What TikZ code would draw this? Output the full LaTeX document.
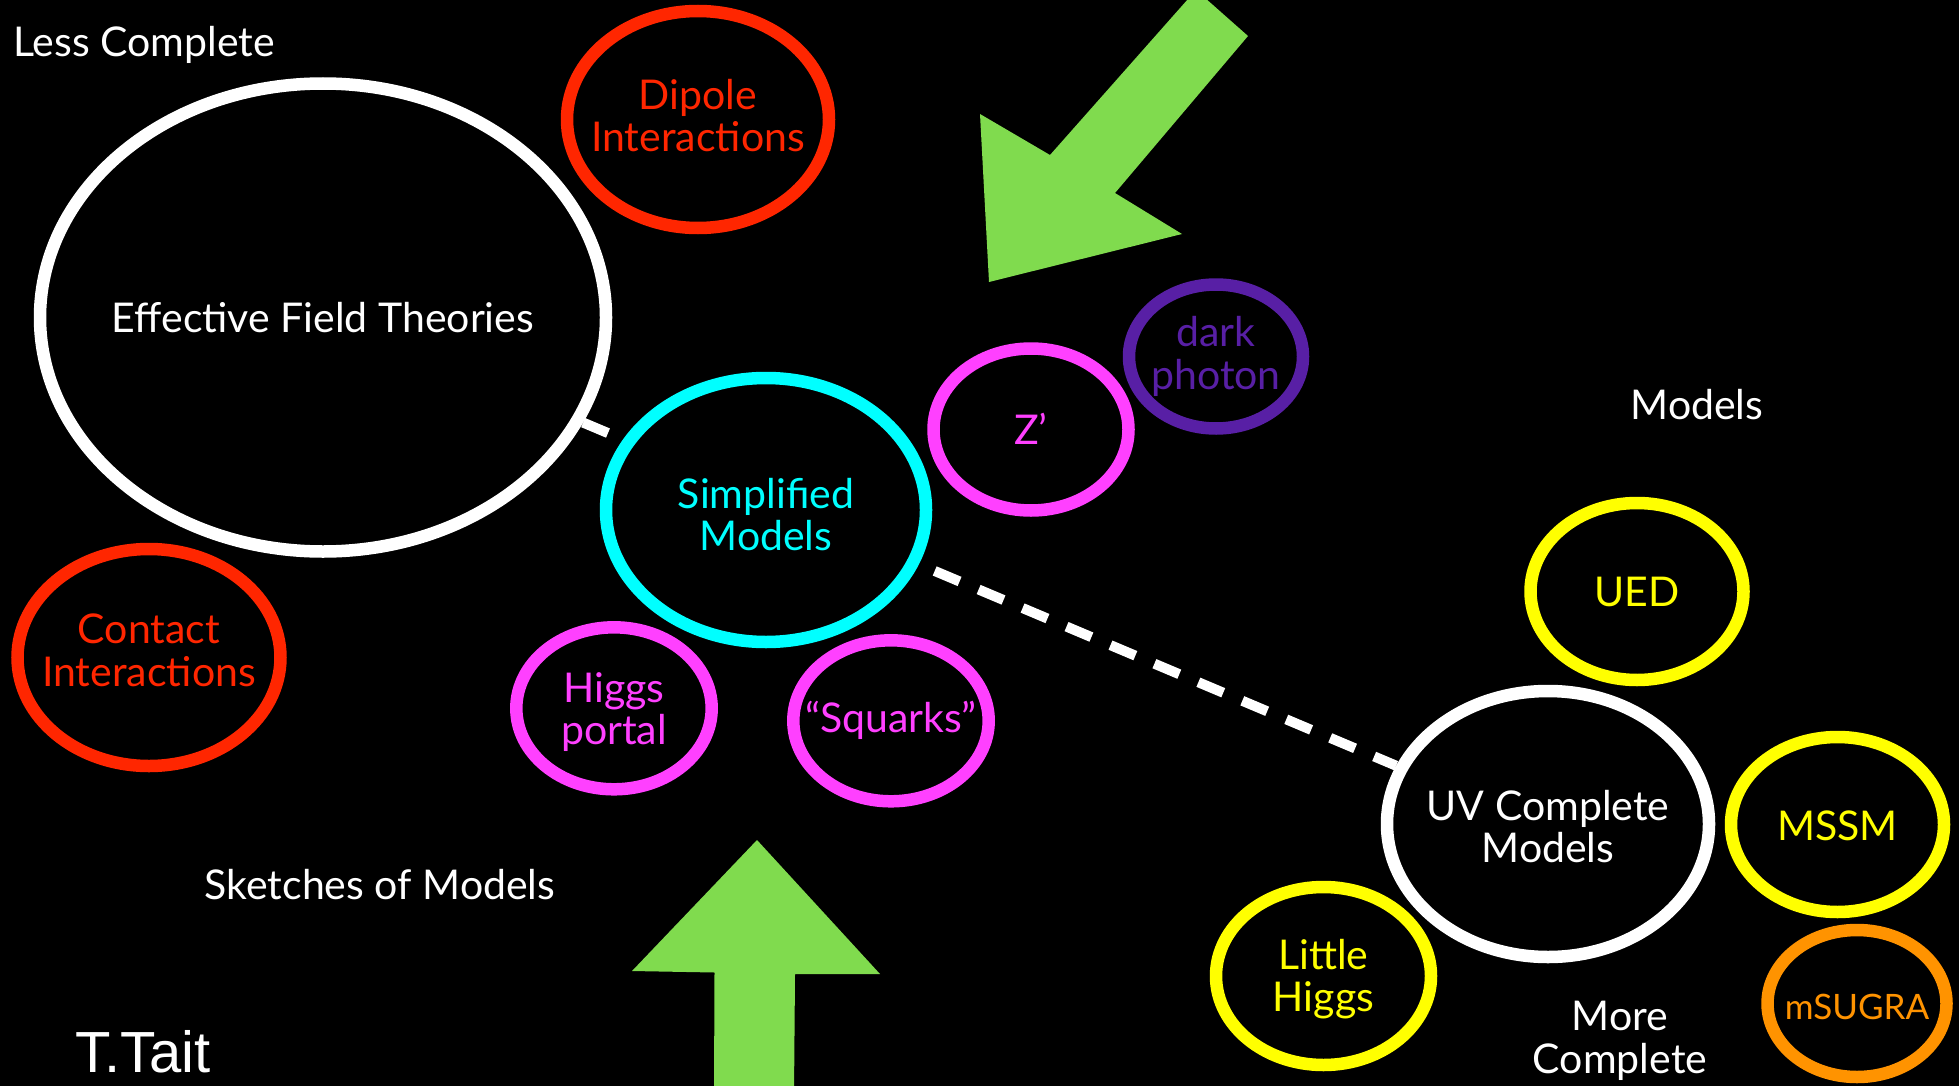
\documentclass[tikz,border=0pt]{standalone}
\usepackage{fontspec}
\setmainfont{Lato}
\newfontfamily\authorfont{Liberation Sans}
\usetikzlibrary{shapes.geometric}

\definecolor{bubblered}{RGB}{255,38,0}
\definecolor{bubblecyan}{RGB}{0,255,255}
\definecolor{bubblemagenta}{RGB}{255,64,255}
\definecolor{bubblepurple}{RGB}{88,31,165}
\definecolor{bubbleyellow}{RGB}{255,255,0}
\definecolor{bubbleorange}{RGB}{255,147,0}
\definecolor{arrowgreen}{RGB}{128,219,78}

\newcommand\bubblefont{\fontsize{20.5}{21.25}\selectfont}
\newcommand\smallbubblefont{\fontsize{17.5}{20}\selectfont}

\pgfdeclarelayer{backdrop}
\pgfdeclarelayer{links}
\pgfsetlayers{backdrop,links,main}

\begin{document}
\begin{tikzpicture}[x=0.5pt,y=-0.5pt,
  bubble/.style={ellipse, draw=#1, line width=6.25pt, fill=black, inner sep=0pt},
  tx/.style={inner sep=0pt, align=center, font=\bubblefont, text=#1},
  plain/.style={inner sep=0pt, text=white, font=\bubblefont},
  link/.style={draw=white, line width=5pt, dash pattern=on 13.5pt off 10.35pt},
  bigarrow/.style={fill=arrowgreen}]

\useasboundingbox (0,0) rectangle (1959,1086);
\begin{pgfonlayer}{backdrop}
  \fill[black] (0,0) rectangle (1959,1086);
\end{pgfonlayer}
\clip (0,0) rectangle (1959,1086);

% headings
\node[plain, anchor=base west] (lesscomplete) at (12.8,57) {Less Complete};
\node[plain, anchor=base] (modelslabel) at (1697,419) {Models};
\node[plain, anchor=base] (sketches) at (380,899) {Sketches of Models};
\node[plain, align=center] (morecomplete) at (1620,1041) {More\\Complete};
\node[inner sep=0pt, anchor=base west, text=white,
  font=\authorfont\fontsize{29}{32}\selectfont] (author) at (75,1072) {T.Tait};

% theory bubbles, each with its label set in the middle
\node[bubble=white, minimum width=283pt, minimum height=234pt,
  label={[tx=white]center:Effective Field Theories}]
  (eft) at (323,317.5) {};
\node[bubble=bubblered, minimum width=131pt, minimum height=108.5pt,
  label={[tx=bubblered, yshift=2pt]center:{Dipole\\Interactions}}]
  (dipole) at (698,119.5) {};
\node[bubble=bubblered, minimum width=131.5pt, minimum height=108.5pt,
  label={[tx=bubblered, yshift=3.7pt]center:{Contact\\Interactions}}]
  (contact) at (149,657.5) {};
\node[bubble=bubblecyan, minimum width=160pt, minimum height=132pt,
  label={[tx=bubblecyan, yshift=-2.2pt]center:{Simplified\\Models}}]
  (simp) at (766,510) {};
\node[bubble=bubblemagenta, minimum width=97.5pt, minimum height=81pt,
  label={[tx=bubblemagenta, yshift=0.5pt]center:Z’}]
  (zprime) at (1031,429.5) {};
\node[bubble=bubblepurple, minimum width=87pt, minimum height=72pt,
  label={[tx=bubblepurple]center:{dark\\photon}}]
  (darkphoton) at (1216,356.5) {};
\node[bubble=bubblemagenta, minimum width=97.7pt, minimum height=81pt,
  label={[tx=bubblemagenta, yshift=-1.9pt]center:{Higgs\\portal}}]
  (higgsportal) at (614,708.3) {};
\node[bubble=bubblemagenta, minimum width=97.7pt, minimum height=80.5pt,
  label={[tx=bubblemagenta]center:“Squarks”}]
  (squarks) at (891,720.8) {};
\node[bubble=white, minimum width=161pt, minimum height=133pt,
  label={[tx=white, yshift=-1.25pt]center:{UV Complete\\Models}}]
  (uv) at (1548,824) {};
\node[bubble=bubbleyellow, minimum width=106.5pt, minimum height=88.5pt,
  label={[tx=bubbleyellow]center:UED}]
  (ued) at (1637,591.5) {};
\node[bubble=bubbleyellow, minimum width=106.5pt, minimum height=87.5pt,
  label={[tx=bubbleyellow, yshift=-0.5pt]center:MSSM}]
  (mssm) at (1837.5,824.5) {};
\node[bubble=bubbleorange, minimum width=89.5pt, minimum height=73.5pt,
  label={[tx=bubbleorange, font=\smallbubblefont, yshift=-1.9pt]center:mSUGRA}]
  (msugra) at (1857,1003.5) {};
\node[bubble=bubbleyellow, minimum width=107.5pt, minimum height=89pt,
  label={[tx=bubbleyellow, yshift=-1.5pt]center:{Little\\Higgs}}]
  (littlehiggs) at (1323.5,976) {};

% dashed connector, running underneath the Simplified Models bubble
\begin{pgfonlayer}{links}
  \draw[link] (eft.338.5) -- (uv.159.4);
\end{pgfonlayer}

% green arrows
\fill[bigarrow] (1196,-10) -- (1248,36) -- (1115,193) -- (1182,234)
  -- (989,282) -- (980,114) -- (1050,155) -- cycle;
\fill[bigarrow] (757,840) -- (880,974) -- (795,974) -- (794,1095)
  -- (714,1095) -- (714.5,972.5) -- (632,971) -- cycle;

\end{tikzpicture}
\end{document}
